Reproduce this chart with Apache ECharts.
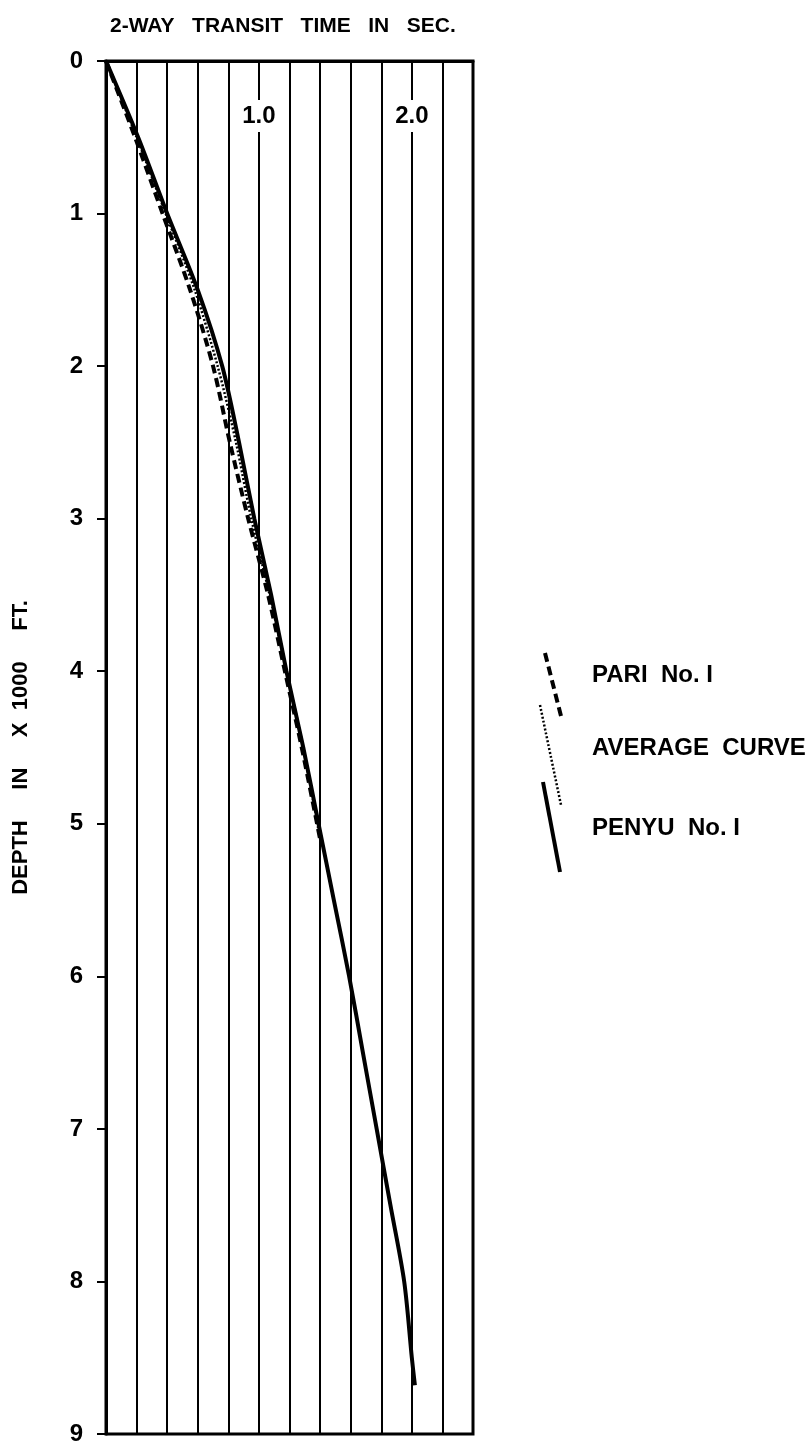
<!DOCTYPE html>
<html>
<head>
<meta charset="utf-8">
<script src="https://cdn.jsdelivr.net/npm/echarts@6/dist/echarts.min.js"></script>
<style>
  html, body { margin: 0; padding: 0; background: #fff; }
  #myChart { width: 812px; height: 1446px; }
</style>
</head>
<body>
<div id="myChart"></div>
<script>
// depth in x1000 ft, 2-way time in sec
var pariDepth = [0, 0.5, 1.0, 1.5, 2.0, 2.5, 3.0, 3.5, 4.0, 4.5, 5.1];
var pariTime  = [0, 0.19, 0.37, 0.55, 0.70, 0.81, 0.93, 1.06, 1.17, 1.28, 1.40];

var avgDepth = [0, 0.5, 1.0, 1.5, 2.0, 2.5, 3.0, 3.5, 4.0, 4.5, 5.1];
var avgTime  = [0, 0.20, 0.39, 0.58, 0.73, 0.85, 0.95, 1.07, 1.18, 1.29, 1.40];

var penyuDepth = [0, 0.5, 1.0, 1.5, 2.0, 2.5, 3.0, 3.5, 4.0, 4.5, 5.0, 5.5, 6.0, 6.5, 7.0, 7.5, 8.0, 8.5, 8.68];
var penyuTime  = [0, 0.21, 0.40, 0.60, 0.76, 0.87, 0.97, 1.08, 1.18, 1.29, 1.39, 1.49, 1.59, 1.68, 1.77, 1.86, 1.95, 2.00, 2.02];

var xLabels = ['1.0', '2.0'];
var legendNames = ['PARI  No. I', 'AVERAGE  CURVE', 'PENYU  No. I'];

function pairs(t, d){
  var out = [];
  for (var i = 0; i < t.length; i++) out.push([t[i], d[i]]);
  return out;
}

var font = 'Liberation Sans';
var myChart = echarts.init(document.getElementById('myChart'));
var option = {
  backgroundColor: '#fff',
  animation: false,
  title: {
    text: '2-WAY   TRANSIT   TIME   IN   SEC.',
    left: 110,
    top: 16,
    padding: 0,
    textStyle: { fontFamily: font, fontWeight: 'bold', fontSize: 21, color: '#000' }
  },
  grid: {
    left: 106, top: 61, right: 339, bottom: 12,
    show: true, borderColor: '#000', borderWidth: 3, backgroundColor: 'transparent'
  },
  xAxis: {
    type: 'value',
    position: 'top',
    min: 0, max: 2.4, interval: 0.2,
    axisLine: { show: true, lineStyle: { color: '#000', width: 3 } },
    axisTick: { show: false },
    splitLine: { show: true, lineStyle: { color: '#000', width: 2 } },
    axisLabel: {
      inside: true,
      margin: 39,
      formatter: function(v){
        for (var i = 0; i < xLabels.length; i++) {
          if (Math.abs(v - parseFloat(xLabels[i])) < 1e-6) return '{a|' + xLabels[i] + '}';
        }
        return '';
      },
      rich: {
        a: {
          fontFamily: font, fontWeight: 'bold', fontSize: 24, color: '#000',
          backgroundColor: '#fff', padding: [4, 1]
        }
      }
    }
  },
  yAxis: {
    type: 'value',
    inverse: true,
    min: 0, max: 9, interval: 1,
    name: 'DEPTH     IN     X  1000     FT.',
    nameLocation: 'middle',
    nameGap: 74,
    nameTextStyle: { fontFamily: font, fontWeight: 'bold', fontSize: 22, color: '#000' },
    axisLine: { show: true, lineStyle: { color: '#000', width: 3 } },
    axisTick: { show: true, length: 9, lineStyle: { color: '#000', width: 2 } },
    splitLine: { show: false },
    axisLabel: { margin: 23, fontFamily: font, fontWeight: 'bold', fontSize: 24, color: '#000' }
  },
  graphic: [
    { type: 'line', shape: { x1: 545, y1: 653, x2: 562, y2: 720 },
      style: { stroke: '#000', lineWidth: 4, lineDash: [9, 5] } },
    { type: 'line', shape: { x1: 540, y1: 705, x2: 561, y2: 805 },
      style: { stroke: '#000', lineWidth: 2.5, lineDash: [2, 2] } },
    { type: 'line', shape: { x1: 543, y1: 782, x2: 560, y2: 872 },
      style: { stroke: '#000', lineWidth: 4 } },
    { type: 'text', left: 592, top: 663,
      style: { text: legendNames[0], font: 'bold 24px "Liberation Sans"', fill: '#000' } },
    { type: 'text', left: 592, top: 736,
      style: { text: legendNames[1], font: 'bold 24px "Liberation Sans"', fill: '#000' } },
    { type: 'text', left: 592, top: 816,
      style: { text: legendNames[2], font: 'bold 24px "Liberation Sans"', fill: '#000' } }
  ],
  series: [
    {
      name: legendNames[0], type: 'line', data: pairs(pariTime, pariDepth),
      smooth: 0.3, showSymbol: false,
      lineStyle: { color: '#000', width: 4, type: [9, 5] }
    },
    {
      name: legendNames[1], type: 'line', data: pairs(avgTime, avgDepth),
      smooth: 0.3, showSymbol: false,
      lineStyle: { color: '#000', width: 2.5, type: [2, 2] }
    },
    {
      name: legendNames[2], type: 'line', data: pairs(penyuTime, penyuDepth),
      smooth: 0.3, showSymbol: false,
      lineStyle: { color: '#000', width: 4 }
    }
  ]
};
myChart.setOption(option);
</script>
</body>
</html>
